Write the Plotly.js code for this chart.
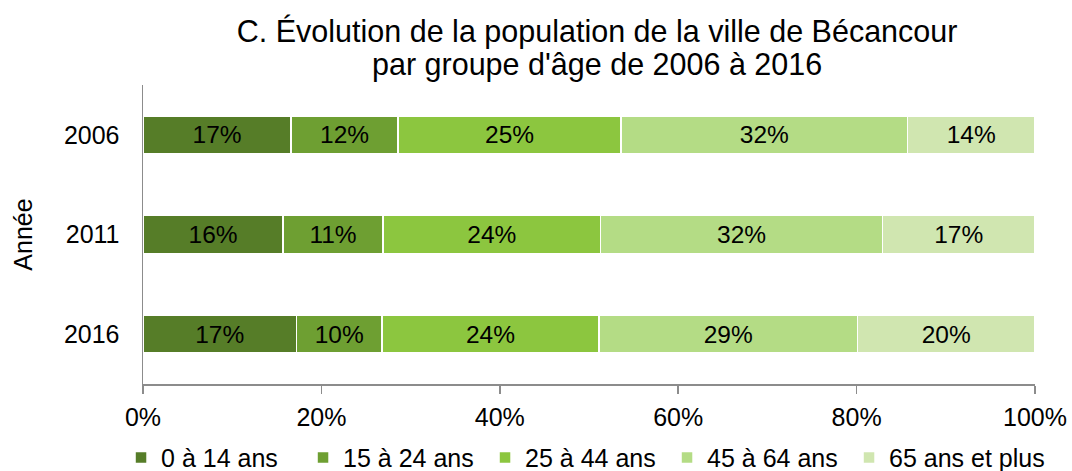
<!DOCTYPE html>
<html>
<head>
<meta charset="utf-8">
<script src="https://cdn.plot.ly/plotly-3.0.1.min.js"></script>
<style>html,body{margin:0;padding:0;background:#fff;}#chart{width:1072px;height:471px;}</style>
</head>
<body>
<div id="chart"></div>
<script>
const years = ['2006', '2011', '2016'];
const groupNames = ['0 à 14 ans', '15 à 24 ans', '25 à 44 ans', '45 à 64 ans', '65 ans et plus'];
const g0_14 = [16.6, 15.7, 17.2];
const g15_24 = [12.0, 11.2, 9.6];
const g25_44 = [25.0, 24.4, 24.3];
const g45_64 = [32.1, 31.6, 29.0];
const g65p = [14.3, 17.1, 19.9];
const xTickVals = [0, 20, 40, 60, 80, 100];
const titleLines = ['C. Évolution de la population de la ville de Bécancour', 'par groupe d\'âge de 2006 à 2016'];

const series = [g0_14, g15_24, g25_44, g45_64, g65p];
const colors = ['#567D28', '#6E9F32', '#8CC63F', '#B4DC85', '#D0E6B0'];
const FONT = 'Liberation Sans, Arial, sans-serif';

const traces = series.map((vals, i) => ({
  type: 'bar',
  orientation: 'h',
  name: groupNames[i],
  legend: i < 4 ? 'legend' : 'legend2',
  y: years,
  x: vals,
  marker: {color: colors[i], line: {color: '#ffffff', width: 1.5}},
  texttemplate: '%{x:.0f}%',
  textposition: 'inside',
  insidetextanchor: 'middle',
  textangle: 0,
  constraintext: 'none',
  textfont: {family: FONT, size: 24.5, color: '#000000'},
  hoverinfo: 'skip'
}));

const legendBase = {
  orientation: 'h',
  xanchor: 'left', xref: 'container',
  y: 0.077, yanchor: 'top', yref: 'container',
  font: {family: FONT, size: 25, color: '#000000'},
  traceorder: 'normal',
  itemwidth: 30,
  bgcolor: 'rgba(0,0,0,0)'
};

const layout = {
  width: 1072,
  height: 471,
  barmode: 'stack',
  bargap: 0.62,
  paper_bgcolor: '#ffffff',
  plot_bgcolor: '#ffffff',
  margin: {l: 143, r: 37, t: 85, b: 87, pad: 0, autoexpand: false},
  font: {family: FONT, size: 25, color: '#000000'},
  title: {
    text: titleLines.map(t => '<span style="font-size:30.5px">' + t + '</span>').join('<br>'),
    font: {family: FONT, size: 25.4, color: '#000000'},
    x: 0.557, xref: 'container', xanchor: 'center',
    y: 0.911, yref: 'container', yanchor: 'top'
  },
  xaxis: {
    range: [0, 100],
    tickvals: xTickVals,
    ticktext: xTickVals.map(v => v + '%'),
    showgrid: false,
    zeroline: false,
    showline: true,
    linecolor: '#8C8C8C',
    linewidth: 1.5,
    ticks: 'outside',
    ticklen: 8,
    tickwidth: 1.5,
    tickcolor: '#8C8C8C',
    ticklabelstandoff: 2,
    tickfont: {family: FONT, size: 25, color: '#000000'},
    fixedrange: true
  },
  yaxis: {
    type: 'category',
    autorange: 'reversed',
    showgrid: false,
    zeroline: false,
    showline: true,
    linecolor: '#8C8C8C',
    linewidth: 1.5,
    ticks: '',
    ticklabelstandoff: 17,
    tickfont: {family: FONT, size: 25, color: '#000000'},
    title: {text: 'Année', font: {family: FONT, size: 25, color: '#000000'}, standoff: 24},
    fixedrange: true
  },
  legend: Object.assign({}, legendBase, {x: 0.1129, entrywidth: 137, entrywidthmode: 'pixels'}),
  legend2: Object.assign({}, legendBase, {x: 0.792}),
  showlegend: true
};

Plotly.newPlot('chart', traces, layout, {displayModeBar: false, staticPlot: true});
</script>
</body>
</html>
